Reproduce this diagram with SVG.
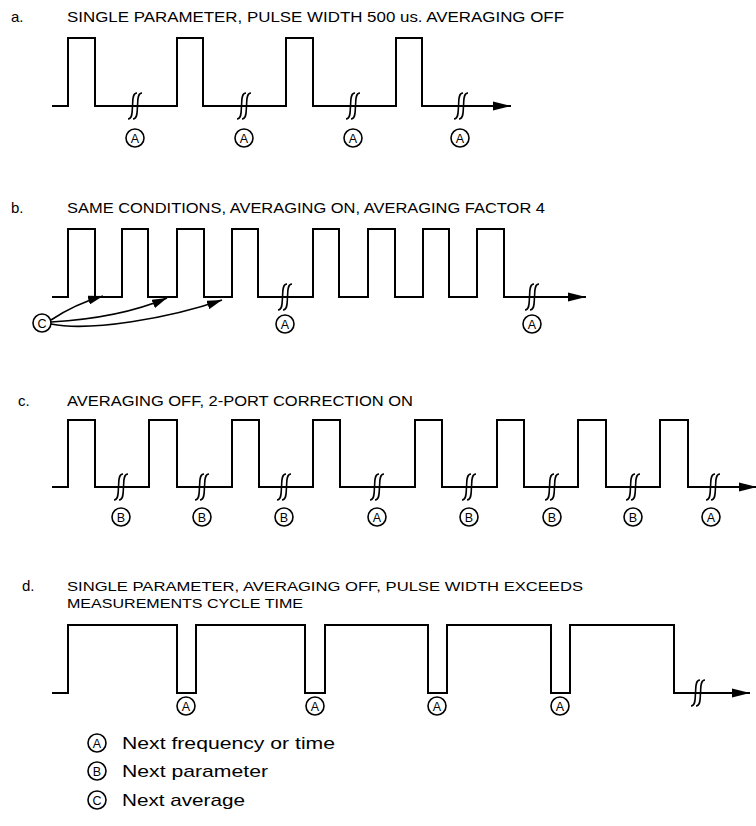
<svg xmlns="http://www.w3.org/2000/svg" width="756" height="826" viewBox="0 0 756 826">
<style>
.w{fill:none;stroke:#000;stroke-width:2;stroke-linejoin:miter}
.br{fill:none;stroke:#000;stroke-width:1.6}
.c{fill:#fff;stroke:#000;stroke-width:1.6}
.cl{font-family:"Liberation Sans",Arial,sans-serif;font-size:12.5px;text-anchor:middle;fill:#000}
.t{font-family:"Liberation Sans",Arial,sans-serif;font-size:15px;fill:#000}
.td{font-family:"Liberation Sans",Arial,sans-serif;font-size:13.5px;fill:#000}
.lg{font-family:"Liberation Sans",Arial,sans-serif;font-size:17px;fill:#000}
.cn{fill:none;stroke:#000;stroke-width:1.6}
</style>
<defs>
<marker id="ah" markerWidth="18" markerHeight="10" refX="18" refY="5" orient="auto" markerUnits="userSpaceOnUse"><path d="M0,0.5 L18,5 L0,9.5 z" fill="#000"/></marker>
<marker id="sa" markerWidth="15" markerHeight="9" refX="15" refY="4.5" orient="auto" markerUnits="userSpaceOnUse"><path d="M0,0 L15,4.5 L0,9 z" fill="#000"/></marker>
<path id="brk" d="M3,-13 C-2,-13 -1,-5 -1.5,0 C-2,5 -1,13 -6,13 M8,-13 C3,-13 4,-5 3.5,0 C3,5 4,13 -1,13" class="br"/>
<g id="cA"><circle r="9" class="c"/><text y="4.5" class="cl">A</text></g>
<g id="cB"><circle r="9" class="c"/><text y="4.5" class="cl">B</text></g>
<g id="cC"><circle r="9" class="c"/><text y="4.5" class="cl">C</text></g>
</defs>
<rect width="756" height="826" fill="#fff"/>

<g id="section-a">
<text x="11" y="22" class="t">a.</text>
<text x="67" y="22" class="t" textLength="497" lengthAdjust="spacingAndGlyphs">SINGLE PARAMETER, PULSE WIDTH 500 us. AVERAGING OFF</text>
<path class="w" marker-end="url(#ah)" d="M52,106 H68 V38 H95 V106 H177 V38 H203 V106 H286 V38 H313 V106 H396 V38 H422 V106 H511"/>
<use href="#brk" x="134" y="106"/><use href="#brk" x="243" y="106"/><use href="#brk" x="352" y="106"/><use href="#brk" x="460" y="106"/>
<use href="#cA" x="135" y="138"/><use href="#cA" x="244" y="138"/><use href="#cA" x="353" y="138"/><use href="#cA" x="460" y="138"/>
</g>

<g id="section-b">
<text x="11" y="213" class="t">b.</text>
<text x="67" y="213" class="t" textLength="478" lengthAdjust="spacingAndGlyphs">SAME CONDITIONS, AVERAGING ON, AVERAGING FACTOR 4</text>
<path class="w" marker-end="url(#ah)" d="M52,297 H68 V229 H95 V297 H122 V229 H148 V297 H177 V229 H204 V297 H232 V229 H258 V297 H313 V229 H339 V297 H368 V229 H395 V297 H423 V229 H449 V297 H477 V229 H504 V297 H586"/>
<use href="#brk" x="284" y="297"/><use href="#brk" x="531" y="297"/>
<use href="#cA" x="285" y="324"/><use href="#cA" x="532" y="324"/>
<use id="node-c" href="#cC" x="42" y="323"/>
</g>

<g id="connectors">
<path class="cn" marker-end="url(#sa)" d="M51,320 Q75,304 103,296"/>
<path class="cn" marker-end="url(#sa)" d="M51,322 Q120,318 167,298"/>
<path class="cn" marker-end="url(#sa)" d="M51,324 C90,332 170,318 222,300"/>
</g>

<g id="section-c">
<text x="18" y="406" class="t">c.</text>
<text x="67" y="406" class="t" textLength="346" lengthAdjust="spacingAndGlyphs">AVERAGING OFF, 2-PORT CORRECTION ON</text>
<path class="w" marker-end="url(#ah)" d="M52,487 H68 V420 H95 V487 H149 V420 H177 V487 H232 V420 H259 V487 H313 V420 H340 V487 H415 V420 H442 V487 H497 V420 H524 V487 H578 V420 H606 V487 H660 V420 H688 V487 H757"/>
<use href="#brk" x="120" y="487"/><use href="#brk" x="201" y="487"/><use href="#brk" x="283" y="487"/><use href="#brk" x="376" y="487"/><use href="#brk" x="468" y="487"/><use href="#brk" x="551" y="487"/><use href="#brk" x="632" y="487"/><use href="#brk" x="712" y="487"/>
<use href="#cB" x="121" y="517"/><use href="#cB" x="202" y="517"/><use href="#cB" x="284" y="517"/><use href="#cA" x="377" y="517"/><use href="#cB" x="469" y="517"/><use href="#cB" x="552" y="517"/><use href="#cB" x="633" y="517"/><use href="#cA" x="711" y="517"/>
</g>

<g id="section-d">
<text x="22" y="591" class="t">d.</text>
<text x="67" y="591" class="td" textLength="516" lengthAdjust="spacingAndGlyphs">SINGLE PARAMETER, AVERAGING OFF, PULSE WIDTH EXCEEDS</text>
<text x="67" y="608" class="td" textLength="236" lengthAdjust="spacingAndGlyphs">MEASUREMENTS CYCLE TIME</text>
<path class="w" marker-end="url(#ah)" d="M52,693 H68 V625 H177 V693 H196 V625 H305 V693 H325 V625 H428 V693 H447 V625 H551 V693 H570 V625 H674 V693 H750"/>
<use href="#brk" x="697" y="693"/>
<use href="#cA" x="186" y="706"/><use href="#cA" x="315" y="706"/><use href="#cA" x="437" y="706"/><use href="#cA" x="560" y="706"/>
</g>

<g id="legend">
<use href="#cA" x="97" y="743"/>
<text x="122" y="749" class="lg" textLength="213" lengthAdjust="spacingAndGlyphs">Next frequency or time</text>
<use href="#cB" x="97" y="771"/>
<text x="122" y="777" class="lg" textLength="146" lengthAdjust="spacingAndGlyphs">Next parameter</text>
<use href="#cC" x="97" y="800"/>
<text x="122" y="806" class="lg" textLength="123" lengthAdjust="spacingAndGlyphs">Next average</text>
</g>
</svg>
